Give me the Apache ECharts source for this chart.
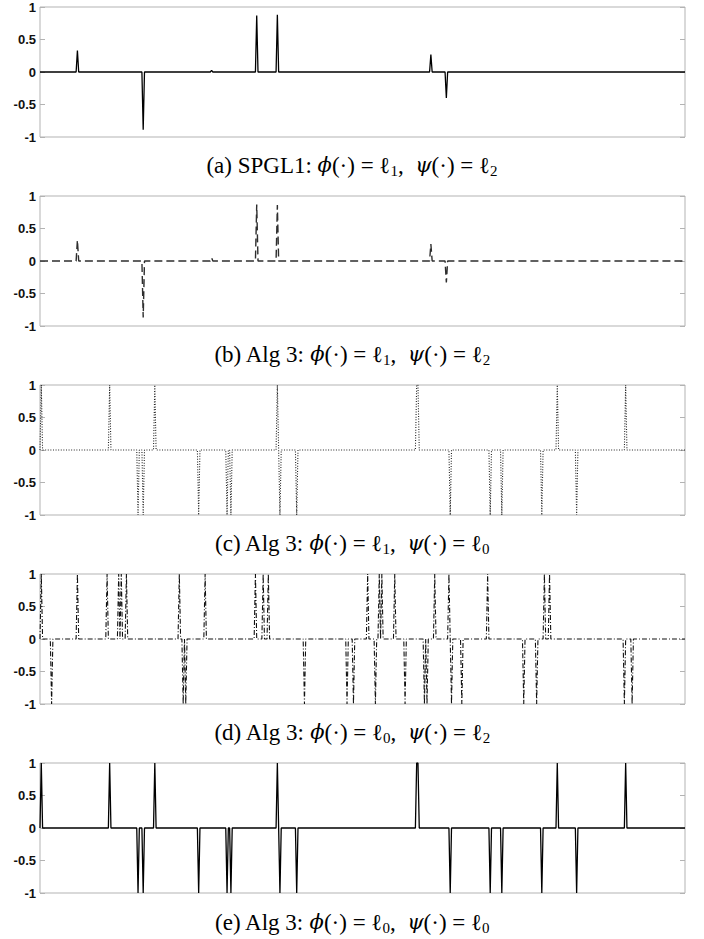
<!DOCTYPE html>
<html>
<head>
<meta charset="utf-8">
<script src="https://cdn.jsdelivr.net/npm/echarts@6.0.0/dist/echarts.min.js"></script>
<style>
  html, body { margin: 0; padding: 0; background: #fff; }
  #main { width: 704px; height: 939px; }
</style>
</head>
<body>
<div id="main"></div>
<script>
// signal length (x runs 0..sampleCount)
const sampleCount = 500;

// (a) SPGL1
const spglIdx = [29, 80, 133, 168, 184, 303, 315];
const spglAmp = [0.33, -0.89, 0.025, 0.87, 0.88, 0.27, -0.40];

// (b) Alg 3, l1 / l2
const l1l2Idx = [29, 80, 133, 168, 184, 303, 315];
const l1l2Amp = [0.32, -0.87, 0.05, 0.87, 0.86, 0.26, -0.33];

// (c) Alg 3, l1 / l0
const l1l0Idx = [1, 54, 76, 80, 89, 123, 145, 148, 184, 186, 199, 292, 293, 318, 349, 358, 389, 401, 416, 454];
const l1l0Amp = [1, 1, -1, -1, 1, -1, -1, -1, 1, -1, -1, 1, 1, -1, -1, -1, -1, 1, -1, 1];

// (d) Alg 3, l0 / l2
const l0l2Idx = [1, 9, 29, 52, 61, 63, 67, 108, 111, 113, 128, 167, 173, 177, 205, 238, 243, 254, 260, 263,
                 265, 275, 283, 298, 300, 306, 317, 319, 327, 347, 375, 385, 391, 395, 453, 459];
const l0l2Amp = [1, -1, 1, 1, 1, 1, 1, 1, -1, -1, 1, 1, 1, 1, -1, -1, -1, 1, -1, 1,
                 1, 1, -1, -1, -1, 1, 1, -1, -1, 1, -1, -1, 1, 1, -1, -1];

// (e) Alg 3, l0 / l0
const l0l0Idx = [1, 54, 76, 80, 89, 123, 145, 148, 184, 186, 199, 292, 293, 318, 349, 358, 389, 401, 416, 454];
const l0l0Amp = [1, 1, -1, -1, 1, -1, -1, -1, 1, -1, -1, 1, 1, -1, -1, -1, -1, 1, -1, 1];

const yTicks = [-1, -0.5, 0, 0.5, 1];

const captions = [
  '(a) SPGL1: {it|ϕ}(·) = ℓ{sub|1},  {it|ψ}(·) = ℓ{sub|2}',
  '(b) Alg 3: {it|ϕ}(·) = ℓ{sub|1},  {it|ψ}(·) = ℓ{sub|2}',
  '(c) Alg 3: {it|ϕ}(·) = ℓ{sub|1},  {it|ψ}(·) = ℓ{sub|0}',
  '(d) Alg 3: {it|ϕ}(·) = ℓ{sub|0},  {it|ψ}(·) = ℓ{sub|2}',
  '(e) Alg 3: {it|ϕ}(·) = ℓ{sub|0},  {it|ψ}(·) = ℓ{sub|0}'
];

// sparse vector -> full signal
function buildSignal(idx, amp) {
  const s = new Array(sampleCount + 1).fill(0);
  idx.forEach((k, i) => { s[k] = amp[i]; });
  return s.map((v, i) => [i, v]);
}

const panels = [
  { data: buildSignal(spglIdx, spglAmp), line: { color: '#000', width: 1.3, type: 'solid' } },
  { data: buildSignal(l1l2Idx, l1l2Amp), line: { color: '#2e2e2e', width: 1.4, type: [8, 4] } },
  { data: buildSignal(l1l0Idx, l1l0Amp), line: { color: '#222', width: 1.1, type: [1, 1.6] } },
  { data: buildSignal(l0l2Idx, l0l2Amp), line: { color: '#111', width: 1.1, type: [5, 2, 1, 2] } },
  { data: buildSignal(l0l0Idx, l0l0Amp), line: { color: '#000', width: 1.3, type: 'solid' } }
];

const gridTops = [7, 196, 385, 574, 763];
const captionY = [165, 354, 543, 732, 922];
const plotH = 130;

const grid = [], xAxis = [], yAxis = [], series = [], graphic = [];

panels.forEach((p, i) => {
  grid.push({
    left: 40, width: 645, top: gridTops[i], height: plotH,
    show: true, borderColor: '#b3b3b3', borderWidth: 1, backgroundColor: '#fff'
  });
  xAxis.push({
    type: 'value', gridIndex: i, min: 0, max: sampleCount,
    axisLine: { show: false }, axisTick: { show: false },
    axisLabel: { show: false }, splitLine: { show: false }
  });
  yAxis.push({
    type: 'value', gridIndex: i, min: yTicks[0], max: yTicks[yTicks.length - 1], interval: 0.5,
    axisLine: { show: false },
    axisTick: { show: true, inside: true, length: 5, lineStyle: { color: '#b3b3b3' } },
    axisLabel: { margin: 4, fontFamily: 'Liberation Sans, Arial, sans-serif', fontWeight: 700, fontSize: 13, color: '#111' },
    splitLine: { show: false }
  });
  yAxis.push({
    type: 'value', gridIndex: i, position: 'right', min: -1, max: 1, interval: 0.5,
    axisLine: { show: false },
    axisTick: { show: true, inside: true, length: 5, lineStyle: { color: '#b3b3b3' } },
    axisLabel: { show: false }, splitLine: { show: false }
  });
  series.push({
    type: 'line', xAxisIndex: i, yAxisIndex: i * 2,
    data: p.data, showSymbol: false, symbol: 'none', silent: true,
    lineStyle: p.line, animation: false
  });
  graphic.push({
    type: 'text', x: 352, y: captionY[i],
    style: {
      text: captions[i],
      align: 'center', verticalAlign: 'middle',
      fontFamily: 'Liberation Serif', fontSize: 23, lineHeight: 27, fill: '#000',
      rich: {
        it: { fontStyle: 'italic', fontFamily: 'DejaVu Serif', fontSize: 21, lineHeight: 27 },
        sub: { fontSize: 15, lineHeight: 15, verticalAlign: 'bottom', fontFamily: 'Liberation Serif' }
      }
    }
  });
});

const chart = echarts.init(document.getElementById('main'), null, { renderer: 'svg' });
chart.setOption({
  animation: false,
  backgroundColor: '#fff',
  grid: grid,
  xAxis: xAxis,
  yAxis: yAxis,
  series: series,
  graphic: graphic
});
</script>
</body>
</html>
